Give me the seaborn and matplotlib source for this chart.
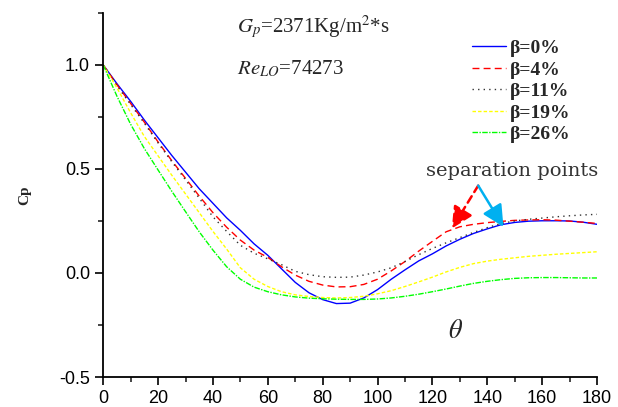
import numpy as np
import pandas as pd
import matplotlib
matplotlib.use("Agg")
import matplotlib.pyplot as plt
from matplotlib.ticker import MultipleLocator
import seaborn as sns

theta = [0, 5, 10, 15, 20, 25, 30, 35, 40, 45, 50, 55, 60, 65, 70, 75, 80, 85, 90,
         95, 100, 105, 110, 115, 120, 125, 130, 135, 140, 145, 150, 155, 160, 165, 170, 175, 180]

cp_b0 = [1.0, 0.91, 0.825, 0.735, 0.65, 0.565, 0.485, 0.405, 0.335, 0.265, 0.205, 0.14, 0.085,
         0.02, -0.045, -0.095, -0.128, -0.147, -0.145, -0.12, -0.08, -0.03, 0.015, 0.058, 0.092,
         0.13, 0.162, 0.19, 0.212, 0.232, 0.243, 0.249, 0.251, 0.251, 0.25, 0.244, 0.234]
cp_b4 = [1.0, 0.905, 0.815, 0.725, 0.63, 0.54, 0.455, 0.37, 0.29, 0.22, 0.158, 0.11, 0.075,
         0.03, -0.01, -0.04, -0.058, -0.067, -0.066, -0.055, -0.03, 0.01, 0.055, 0.105, 0.152,
         0.198, 0.222, 0.234, 0.242, 0.248, 0.253, 0.255, 0.256, 0.254, 0.249, 0.244, 0.238]
cp_b11 = [1.0, 0.9, 0.81, 0.72, 0.625, 0.535, 0.448, 0.36, 0.27, 0.2, 0.133, 0.095, 0.068,
          0.04, 0.008, -0.008, -0.018, -0.021, -0.02, -0.01, 0.005, 0.025, 0.055, 0.088, 0.118,
          0.145, 0.17, 0.195, 0.218, 0.238, 0.25, 0.258, 0.264, 0.27, 0.275, 0.279, 0.282]
cp_b19 = [1.0, 0.89, 0.77, 0.656, 0.563, 0.47, 0.38, 0.29, 0.2, 0.115, 0.025, -0.03, -0.065,
          -0.09, -0.105, -0.113, -0.118, -0.12, -0.118, -0.112, -0.1, -0.085, -0.065, -0.043, -0.02,
          0.005, 0.027, 0.045, 0.057, 0.066, 0.073, 0.08, 0.085, 0.09, 0.094, 0.098, 0.102]
cp_b26 = [1.0, 0.85, 0.715, 0.598, 0.495, 0.393, 0.295, 0.198, 0.11, 0.03, -0.03, -0.068, -0.09,
          -0.105, -0.115, -0.121, -0.124, -0.126, -0.127, -0.127, -0.125, -0.12, -0.112, -0.102, -0.09,
          -0.077, -0.063, -0.05, -0.04, -0.032, -0.026, -0.023, -0.022, -0.022, -0.023, -0.024, -0.024]

labels = ["β=0%", "β=4%", "β=11%", "β=19%", "β=26%"]
series = [cp_b0, cp_b4, cp_b11, cp_b19, cp_b26]
colors = ["#0000ff", "#ff0000", "#333333", "#ffff00", "#00ff00"]
dash_styles = ["", (5, 3), (1, 3), (2.5, 1.5), (4, 1, 1, 1)]

df = pd.concat([pd.DataFrame({"theta": theta, "Cp": s, "beta": lab})
                for s, lab in zip(series, labels)], ignore_index=True)

sns.set_style("ticks")
plt.rcParams["font.family"] = ["Liberation Sans", "DejaVu Sans"]
plt.rcParams["mathtext.fontset"] = "stix"

fig = plt.figure(figsize=(6.18, 4.07), dpi=100)
ax = fig.add_axes([0.167, 0.0737, 0.799, 0.8945])

sns.lineplot(data=df, x="theta", y="Cp", hue="beta", style="beta",
             palette=dict(zip(labels, colors)), dashes=dict(zip(labels, dash_styles)),
             hue_order=labels, style_order=labels, linewidth=1.0, ax=ax)

ax.set_xlim(0, 180)
ax.set_ylim(-0.5, 1.25)
ax.xaxis.set_major_locator(MultipleLocator(20))
ax.xaxis.set_minor_locator(MultipleLocator(10))
ax.yaxis.set_major_locator(MultipleLocator(0.5))
ax.yaxis.set_minor_locator(MultipleLocator(0.25))
ax.set_yticks([-0.5, 0.0, 0.5, 1.0])
ax.set_yticklabels(["-0.5", "0.0", "0.5", "1.0"])
ax.tick_params(which="major", length=6, width=1.2, direction="out", labelsize=13, colors="black")
ax.tick_params(which="minor", length=3.5, width=1.2, direction="out")
for side in ["top", "right"]:
    ax.spines[side].set_visible(False)
for side in ["left", "bottom"]:
    ax.spines[side].set_linewidth(1.3)
    ax.spines[side].set_color("black")

ax.set_xlabel("")
ax.set_ylabel("Cp", family="Liberation Serif", fontweight="bold", fontsize=11, labelpad=20)

handles, labs = ax.get_legend_handles_labels()
ax.legend(handles, labs, loc="upper left", bbox_to_anchor=(0.712, 0.975), frameon=False,
          prop={"family": "Liberation Serif", "weight": "bold", "size": 14},
          handlelength=1.75, labelspacing=0.2, handletextpad=0.2)

ax.text(0.27, 0.96, r"$G_p$=2371Kg/m$^2$*s", transform=ax.transAxes, fontsize=15,
        family="Liberation Serif", va="center")
ax.text(0.27, 0.845, r"$Re_{LO}$=74273", transform=ax.transAxes, fontsize=15,
        family="Liberation Serif", va="center")
ax.text(128.5, -0.28, r"$\theta$", fontsize=19, ha="center", va="center")
ax.text(149, 0.492, "separation points", fontsize=14, family="DejaVu Serif",
        color="#333333", ha="center", va="center")

ax.annotate("", xy=(127.1, 0.214), xytext=(136.7, 0.42),
            arrowprops=dict(arrowstyle="-|>,head_length=1.3,head_width=0.65", color="#ff0000",
                            lw=1.8, linestyle=(0, (3, 2)), shrinkA=0, shrinkB=0))
ax.annotate("", xy=(145.9, 0.222), xytext=(136.7, 0.42),
            arrowprops=dict(arrowstyle="-|>,head_length=1.3,head_width=0.65", color="#00b0f0",
                            lw=1.8, shrinkA=0, shrinkB=0))

fig.savefig("out.png", dpi=100)
